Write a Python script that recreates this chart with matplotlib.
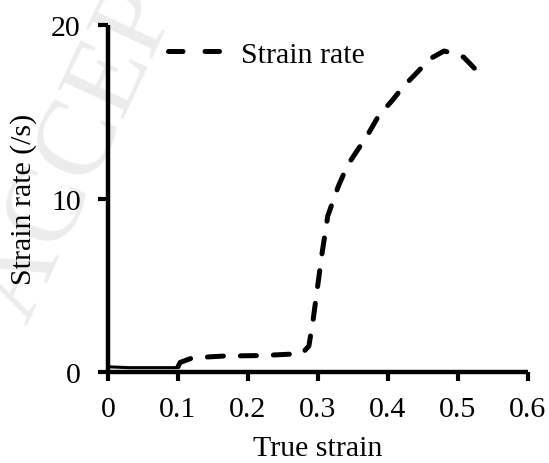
import matplotlib
matplotlib.use("Agg")
import matplotlib.pyplot as plt
from matplotlib.lines import Line2D

# values
# first part (0 - 0.1) looks like a solid line in the original
early_strain = [0.0, 0.03, 0.06, 0.098]
early_rate = [0.3, 0.25, 0.25, 0.25]

strain = [0.100, 0.103, 0.121, 0.166, 0.221, 0.277, 0.287, 0.293, 0.299,
          0.306, 0.314, 0.329, 0.342, 0.355, 0.370, 0.387, 0.405, 0.423,
          0.440, 0.460, 0.480, 0.490, 0.508, 0.526]
rate = [0.3, 0.55, 0.82, 0.92, 0.95, 1.06, 1.5, 3.0, 4.8,
        6.9, 9.0, 10.7, 11.9, 12.7, 13.6, 14.8, 15.6, 16.5,
        17.2, 18.05, 18.5, 18.4, 18.15, 17.4]

x_ticks = [0, 0.1, 0.2, 0.3, 0.4, 0.5, 0.6]
x_labels = ['0', '0.1', '0.2', '0.3', '0.4', '0.5', '0.6']
y_ticks = [0, 10, 20]

plt.rcParams['font.family'] = ['Liberation Serif', 'DejaVu Serif']

fig = plt.figure(figsize=(5.49, 4.64), dpi=100)
ax = fig.add_axes([108 / 549, 1 - 373 / 464, 420 / 549, 347 / 464])
ax.set_facecolor('none')

# faint publisher watermark behind the chart
fig.text(27.4 / 549, 1 - 326.9 / 464, 'ACCEPTED MANUSCRIPT', fontsize=79,
         color='#ececec', rotation=65, rotation_mode='anchor',
         ha='left', va='baseline', zorder=-5)

ax.plot(early_strain, early_rate, color='black', lw=2.2, solid_capstyle='round')
ax.plot(strain, rate, color='black', lw=3.6, linestyle=(0, (3.2, 3.4)),
        dash_capstyle='round')

ax.set_xlim(0, 0.6)
ax.set_ylim(0, 20)
ax.set_xticks(x_ticks)
ax.set_xticklabels(x_labels)
ax.set_yticks(y_ticks)

for s in ['top', 'right']:
    ax.spines[s].set_visible(False)
for s in ['left', 'bottom']:
    ax.spines[s].set_linewidth(3.2)
    ax.spines[s].set_capstyle('butt')

ax.tick_params(axis='x', direction='out', length=6.5, width=3.0, pad=10.5,
               labelsize=21.5)
ax.tick_params(axis='y', direction='out', length=7, width=3.0, pad=12.5,
               labelsize=21.5)

ax.set_xlabel('True strain', fontsize=21.5)
ax.set_ylabel('Strain rate (/s)', fontsize=21.5)
ax.xaxis.set_label_coords(0.5, -0.182)
ax.yaxis.set_label_coords(-0.17, 0.5)

# legend handle: two equal dashes like the original
handle = Line2D([], [], color='black', lw=3.6, linestyle=(0, (2.9, 4.4)),
                dash_capstyle='round')
ax.legend([handle], ['Strain rate'], loc='upper left',
          bbox_to_anchor=(0.142, 0.955), frameon=False,
          fontsize=21.5, handlelength=1.75, handletextpad=0.72,
          borderpad=0, borderaxespad=0)

fig.savefig('out.png', dpi=100)
